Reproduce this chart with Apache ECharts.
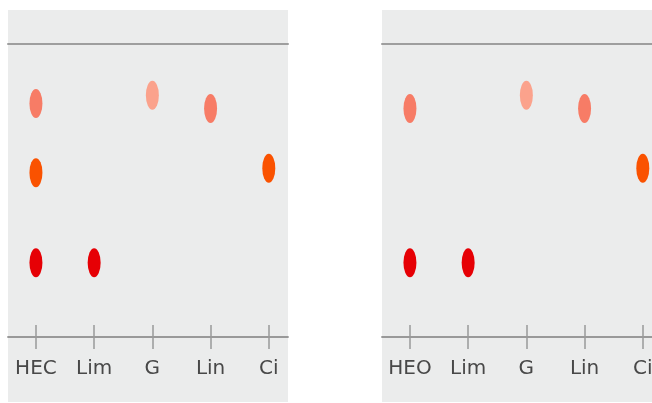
<!DOCTYPE html>
<html>
<head>
<meta charset="utf-8">
<script src="https://cdn.jsdelivr.net/npm/echarts@6/dist/echarts.min.js"></script>
<style>
  html, body { margin: 0; padding: 0; background: #fff; overflow: hidden; }
  #chart { width: 662px; height: 403px; }
</style>
</head>
<body>
<div id="chart"></div>
<script>
// category names per panel
var leftCats = ['HEC', 'Lim', 'G', 'Lin', 'Ci'];
var rightCats = ['HEO', 'Lim', 'G', 'Lin', 'Ci'];

// values as [category index, value]; one list per colour group
var leftCoral = [[0, 7.97], [3, 7.80]];
var leftSalmon = [[2, 8.25]];
var leftOrange = [[0, 5.61], [4, 5.76]];
var leftRed = [[0, 2.53], [1, 2.53]];

var rightCoral = [[0, 7.80], [3, 7.80]];
var rightSalmon = [[2, 8.25]];
var rightOrange = [[4, 5.76]];
var rightRed = [[0, 2.53], [1, 2.53]];

var tickValues = [0, 1, 2, 3, 4];

// the right panel runs past the 652px window, so the canvas is a bit wider
var chart = echarts.init(document.getElementById('chart'));

function bottomAxis(gridIndex, cats, inside) {
  return {
    type: 'value',
    gridIndex: gridIndex,
    position: 'bottom',
    min: -0.48,
    max: 4.33,
    splitLine: { show: false },
    axisLine: { show: !inside, lineStyle: { color: '#999', width: 1.8 } },
    axisTick: {
      show: true,
      inside: inside,
      length: 12,
      customValues: tickValues,
      lineStyle: { color: '#999', width: 1.5 }
    },
    axisLabel: {
      show: !inside,
      customValues: tickValues,
      margin: 22,
      fontFamily: 'DejaVu Sans',
      fontSize: 20,
      color: '#484848',
      formatter: function (v) { return cats[Math.round(v)]; }
    }
  };
}

function topAxis(gridIndex) {
  return {
    type: 'value',
    gridIndex: gridIndex,
    position: 'top',
    min: -0.48,
    max: 4.33,
    splitLine: { show: false },
    axisLine: { show: true, lineStyle: { color: '#9e9e9e', width: 2 } },
    axisTick: { show: false },
    axisLabel: { show: false }
  };
}

function dots(gridIndex, data, color) {
  return {
    type: 'scatter',
    xAxisIndex: gridIndex * 3,
    yAxisIndex: gridIndex,
    data: data,
    symbol: 'circle',
    symbolSize: [13, 29],
    itemStyle: { color: color, opacity: 1 },
    silent: true
  };
}

var option = {
  animation: false,
  graphic: [
    { type: 'rect', z: -10, shape: { x: 8, y: 10, width: 280, height: 392 }, style: { fill: '#ebecec' } },
    { type: 'rect', z: -10, shape: { x: 382, y: 10, width: 280, height: 392 }, style: { fill: '#ebecec' } }
  ],
  grid: [
    { left: 8, width: 280, top: 44, bottom: 66 },
    { left: 382, width: 280, top: 44, bottom: 66 }
  ],
  xAxis: [
    bottomAxis(0, leftCats, false),
    bottomAxis(0, leftCats, true),
    topAxis(0),
    bottomAxis(1, rightCats, false),
    bottomAxis(1, rightCats, true),
    topAxis(1)
  ],
  yAxis: [
    { type: 'value', gridIndex: 0, min: 0, max: 10, show: false },
    { type: 'value', gridIndex: 1, min: 0, max: 10, show: false }
  ],
  series: [
    dots(0, leftCoral, '#f77c66'),
    dots(0, leftSalmon, '#fba28c'),
    dots(0, leftOrange, '#fa5200'),
    dots(0, leftRed, '#e60005'),
    dots(1, rightCoral, '#f77c66'),
    dots(1, rightSalmon, '#fba28c'),
    dots(1, rightOrange, '#fa5200'),
    dots(1, rightRed, '#e60005')
  ]
};

chart.setOption(option);
</script>
</body>
</html>
